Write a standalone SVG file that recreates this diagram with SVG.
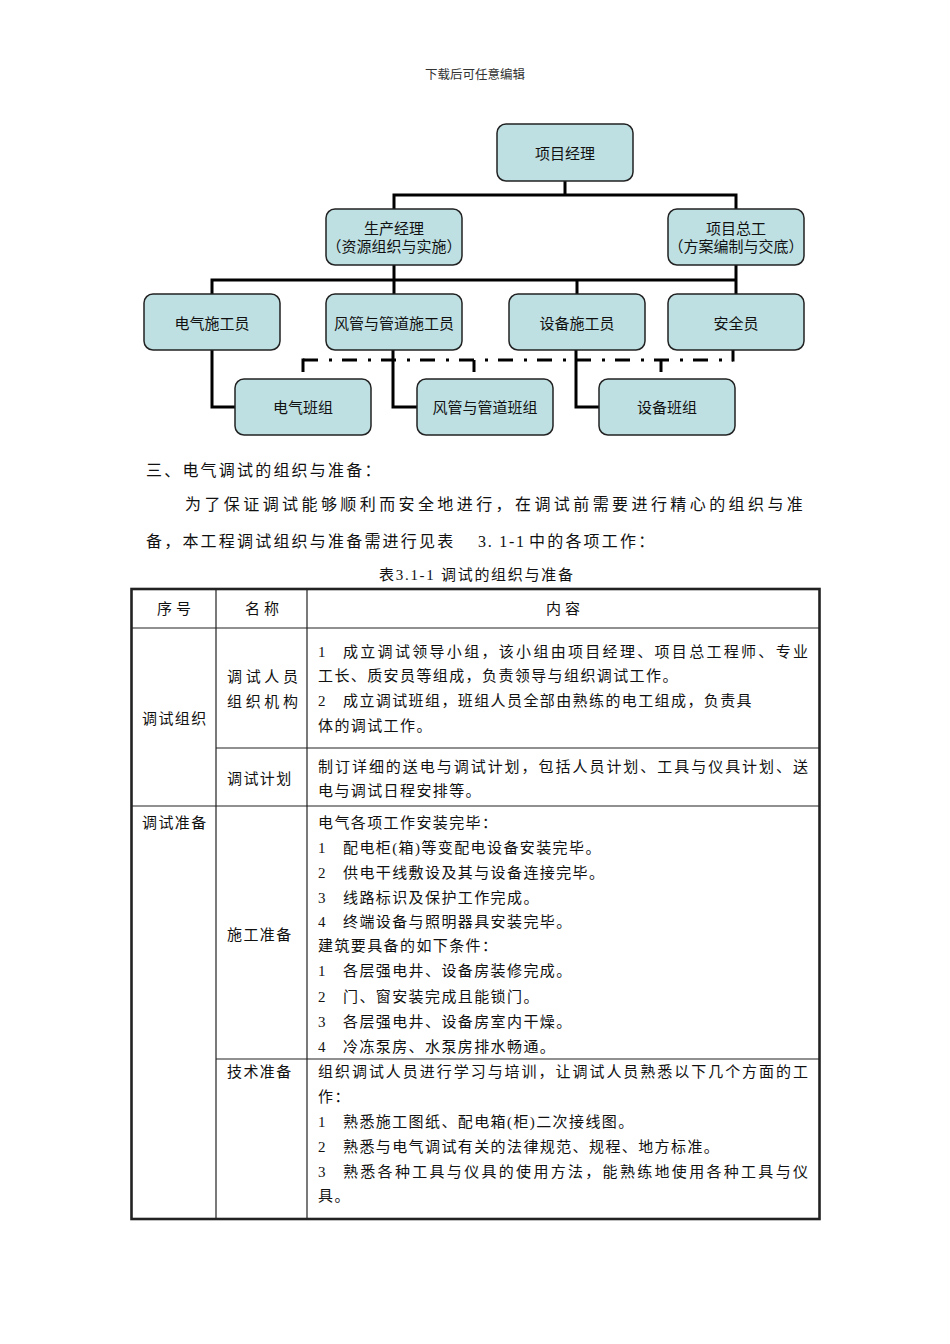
<svg xmlns="http://www.w3.org/2000/svg" width="950" height="1344" viewBox="0 0 950 1344">
<style>
text{font-family:"Liberation Serif","Noto Sans CJK SC",serif;fill:#111}
.hd{font-size:12.5px;fill:#333}
.box{fill:#BEE0E3;stroke:#222;stroke-width:1.5}
.bt{font-size:15px;text-anchor:middle}
.ln{fill:none;stroke:#000;stroke-width:3}
.dd{fill:none;stroke:#000;stroke-width:3;stroke-dasharray:15 11 3 10}
.p{font-size:16px;letter-spacing:2.2px}
.cap{font-size:15px}
.t{font-size:15px;letter-spacing:1.4px}
.j{font-size:15px}
.th{font-size:15px;letter-spacing:4px;text-anchor:middle}
.tb{fill:none;stroke:#222;stroke-width:1.2}
.to{fill:none;stroke:#222;stroke-width:2.6}
</style>

<text class="hd" x="475" y="79" text-anchor="middle">下载后可任意编辑</text>

<g id="connectors">
  <path class="ln" d="M565,181 V195 M392.5,195 H737.5 M394,195 V209 M736,195 V209"/>
  <path class="ln" d="M394,265 V280 M736,265 V280 M210.5,280 H737.5 M212,280 V294 M394,280 V294 M577,280 V294 M736,280 V294"/>
  <path class="ln" d="M212,350 V407 H235 M393,350 V407 H417 M576,350 V407 H599"/>
  <path class="dd" d="M303,360 H733"/>
  <path class="ln" d="M303,358.5 V372 M474,360 V372 M661,360 V372 M733,350 V361.5"/>
</g>

<g id="n-pm"><rect class="box" x="497" y="124" width="136" height="57" rx="9"/><text class="bt" x="565" y="158.5">项目经理</text></g>
<g id="n-sm"><rect class="box" x="326" y="209" width="136" height="56" rx="9"/><text class="bt" x="394" y="233.5">生产经理</text><text class="bt" x="394" y="252">（资源组织与实施）</text></g>
<g id="n-ce"><rect class="box" x="668" y="209" width="136" height="56" rx="9"/><text class="bt" x="736" y="233.5">项目总工</text><text class="bt" x="736" y="252">（方案编制与交底）</text></g>
<g id="n-e1"><rect class="box" x="144" y="294" width="136" height="56" rx="9"/><text class="bt" x="212" y="328.5">电气施工员</text></g>
<g id="n-e2"><rect class="box" x="326" y="294" width="136" height="56" rx="9"/><text class="bt" x="394" y="328.5">风管与管道施工员</text></g>
<g id="n-e3"><rect class="box" x="509" y="294" width="136" height="56" rx="9"/><text class="bt" x="577" y="328.5">设备施工员</text></g>
<g id="n-e4"><rect class="box" x="668" y="294" width="136" height="56" rx="9"/><text class="bt" x="736" y="328.5">安全员</text></g>
<g id="n-t1"><rect class="box" x="235" y="379" width="136" height="56" rx="9"/><text class="bt" x="303" y="412.5">电气班组</text></g>
<g id="n-t2"><rect class="box" x="417" y="379" width="136" height="56" rx="9"/><text class="bt" x="485" y="412.5">风管与管道班组</text></g>
<g id="n-t3"><rect class="box" x="599" y="379" width="136" height="56" rx="9"/><text class="bt" x="667" y="412.5">设备班组</text></g>

<g id="para">
  <text class="p" x="146" y="476">三、电气调试的组织与准备：</text>
  <text class="p" x="185" y="510" textLength="620" lengthAdjust="spacing">为了保证调试能够顺利而安全地进行，在调试前需要进行精心的组织与准</text>
  <text class="p" x="146" y="547">备，本工程调试组织与准备需进行见表</text>
  <text class="p" x="478" y="547" textLength="46" lengthAdjust="spacing" style="letter-spacing:0">3. 1-1</text>
  <text class="p" x="529" y="547">中的各项工作：</text>
  <text class="cap" x="476" y="580" text-anchor="middle" textLength="194" lengthAdjust="spacing">表3.1-1 调试的组织与准备</text>
</g>

<g id="table">
  <rect class="to" x="131.5" y="589" width="688" height="630"/>
  <path class="tb" d="M216,589 V1219 M307,589 V1219 M131,628 H820 M216,748 H820 M131,806 H820 M216,1059 H820"/>
  <text class="th" x="176" y="614">序号</text>
  <text class="th" x="264" y="614">名称</text>
  <text class="th" x="565" y="614">内容</text>

  <text class="t" x="142" y="723.5">调试组织</text>
  <text class="j" x="227" y="681.5" textLength="71" lengthAdjust="spacing">调试人员</text>
  <text class="j" x="227" y="706.5" textLength="71" lengthAdjust="spacing">组织机构</text>
  <text class="t" x="318" y="656.5">1</text>
  <text class="j" x="343" y="656.5" textLength="465" lengthAdjust="spacing">成立调试领导小组，该小组由项目经理、项目总工程师、专业</text>
  <text class="t" x="318" y="681">工长、质安员等组成，负责领导与组织调试工作。</text>
  <text class="t" x="318" y="705.5">2</text>
  <text class="t" x="343" y="705.5">成立调试班组，班组人员全部由熟练的电工组成，负责具</text>
  <text class="t" x="318" y="730.5">体的调试工作。</text>

  <text class="t" x="227" y="783.5">调试计划</text>
  <text class="j" x="318" y="771.5" textLength="490" lengthAdjust="spacing">制订详细的送电与调试计划，包括人员计划、工具与仪具计划、送</text>
  <text class="t" x="318" y="795.5">电与调试日程安排等。</text>

  <text class="t" x="142" y="827.5">调试准备</text>
  <text class="t" x="227" y="939.5">施工准备</text>
  <text class="t" x="318" y="827.5">电气各项工作安装完毕：</text>
  <text class="t" x="318" y="852.5">1</text><text class="t" x="343" y="852.5">配电柜(箱)等变配电设备安装完毕。</text>
  <text class="t" x="318" y="877.5">2</text><text class="t" x="343" y="877.5">供电干线敷设及其与设备连接完毕。</text>
  <text class="t" x="318" y="902.5">3</text><text class="t" x="343" y="902.5">线路标识及保护工作完成。</text>
  <text class="t" x="318" y="926.5">4</text><text class="t" x="343" y="926.5">终端设备与照明器具安装完毕。</text>
  <text class="t" x="318" y="950.5">建筑要具备的如下条件：</text>
  <text class="t" x="318" y="975.5">1</text><text class="t" x="343" y="975.5">各层强电井、设备房装修完成。</text>
  <text class="t" x="318" y="1001.5">2</text><text class="t" x="343" y="1001.5">门、窗安装完成且能锁门。</text>
  <text class="t" x="318" y="1026.5">3</text><text class="t" x="343" y="1026.5">各层强电井、设备房室内干燥。</text>
  <text class="t" x="318" y="1051.5">4</text><text class="t" x="343" y="1051.5">冷冻泵房、水泵房排水畅通。</text>

  <text class="t" x="227" y="1076.5">技术准备</text>
  <text class="j" x="318" y="1076.5" textLength="490" lengthAdjust="spacing">组织调试人员进行学习与培训，让调试人员熟悉以下几个方面的工</text>
  <text class="t" x="318" y="1101.5">作：</text>
  <text class="t" x="318" y="1126.5">1</text><text class="t" x="343" y="1126.5">熟悉施工图纸、配电箱(柜)二次接线图。</text>
  <text class="t" x="318" y="1151.5">2</text><text class="t" x="343" y="1151.5">熟悉与电气调试有关的法律规范、规程、地方标准。</text>
  <text class="t" x="318" y="1176.5">3</text>
  <text class="j" x="343" y="1176.5" textLength="465" lengthAdjust="spacing">熟悉各种工具与仪具的使用方法，能熟练地使用各种工具与仪</text>
  <text class="t" x="318" y="1200.5">具。</text>
</g>
</svg>
